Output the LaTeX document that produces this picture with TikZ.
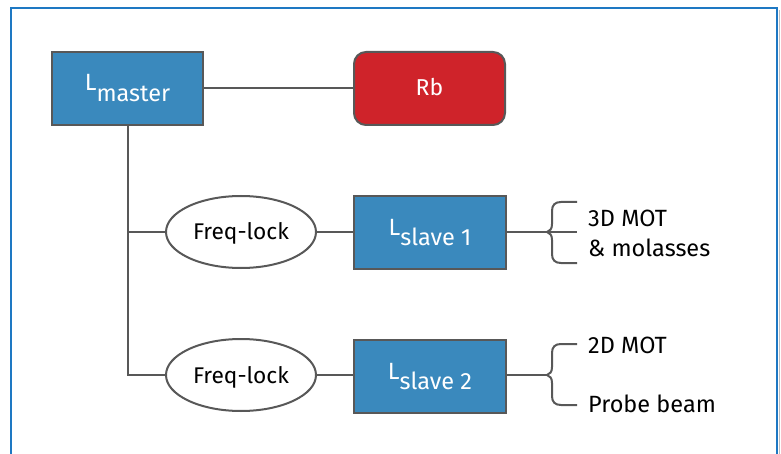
\documentclass[tikz,border=0pt]{standalone}
\usepackage{fontspec}
\setmainfont{Fira Sans}
\usetikzlibrary{shapes.geometric}
\definecolor{boxblue}{RGB}{58,137,189}
\definecolor{boxred}{RGB}{207,35,42}
\definecolor{edgegrey}{RGB}{88,88,88}
\definecolor{frameblue}{RGB}{30,120,195}
\begin{document}
\begin{tikzpicture}[x=1pt,y=-1pt,
  laser/.style={draw=edgegrey, line width=2pt, fill=boxblue, text=white, minimum width=151pt, minimum height=73pt, inner sep=0pt, font=\fontsize{23.5}{26}\selectfont},
  cell/.style={laser, fill=boxred, rounded corners=12pt, font=\fontsize{23}{26}\selectfont},
  lock/.style={ellipse, draw=edgegrey, line width=2pt, fill=white, minimum width=150pt, minimum height=72pt, inner sep=0pt, font=\fontsize{22.7}{26}\selectfont},
  link/.style={draw=edgegrey, line width=2pt},
  note/.style={anchor=base west, inner sep=0pt, font=\fontsize{23.5}{26}\selectfont}
]
\useasboundingbox (0,0) rectangle (781,454);
\fill[white] (0,0) rectangle (781,454);
\draw[frameblue, line width=1.2pt] (11,454) -- (11,8) -- (777,8) -- (777,454);
\draw[black!25, line width=1pt] (779,10) -- (779,454);

\node[laser] (lm) at (127.5,88.5) {\smash{\raisebox{-2pt}{L}\raisebox{-13.5pt}{master}}};
\node[cell] (rb) at (429.5,88.5) {\smash{\raisebox{-7.5pt}{Rb}}};
\node[lock] (fl1) at (241,232) {\smash{\raisebox{-8pt}{Freq-lock}}};
\node[lock] (fl2) at (241,375) {\smash{\raisebox{-8pt}{Freq-lock}}};
\node[laser, minimum width=152pt] (ls1) at (430,232.5) {\smash{\raisebox{-3pt}{L}\raisebox{-13.5pt}{slave 1}}};
\node[laser, minimum width=152pt] (ls2) at (430,376) {\smash{\raisebox{-3pt}{L}\raisebox{-13.5pt}{slave 2}}};

\draw[link] (lm.east) -- (rb.west);
\draw[link] (lm.south) |- (fl2.west);
\draw[link] (lm.south |- fl1.west) -- (fl1.west);
\draw[link] (fl1.east) -- (fl1.east -| ls1.west);
\draw[link] (fl2.east) -- (fl2.east -| ls2.west);

% brace 1
\coordinate (b1) at (547,232);
\coordinate (b1t) at (577,202);
\coordinate (b1m) at (577,232);
\coordinate (b1b) at (577,263);
\draw[link] (ls1.east |- b1m) -- (b1m);
\draw[link] (b1t) -- (561,202) .. controls (555,202) and (552,205) .. (552,211) -- (552,224) .. controls (552,229) and (550,231) .. (b1)
  .. controls (550,233) and (552,235) .. (552,240) -- (552,254) .. controls (552,260) and (555,263) .. (561,263) -- (b1b);

% brace 2
\coordinate (b2) at (547,375);
\coordinate (b2t) at (577,344);
\coordinate (b2b) at (577,405);
\draw[link] (ls2.east |- b2) -- (b2);
\draw[link] (b2t) -- (561,344) .. controls (555,344) and (552,347) .. (552,353) -- (552,367) .. controls (552,372) and (550,374) .. (b2)
  .. controls (550,376) and (552,378) .. (552,383) -- (552,396) .. controls (552,402) and (555,405) .. (561,405) -- (b2b);

\node[note] (t1a) at (588,227) {3D MOT};
\node[note] (t1b) at (588,256) {\& molasses};
\node[note] (t2a) at (588,353) {2D MOT};
\node[note] (t2b) at (588,412) {Probe beam};
\end{tikzpicture}
\end{document}
